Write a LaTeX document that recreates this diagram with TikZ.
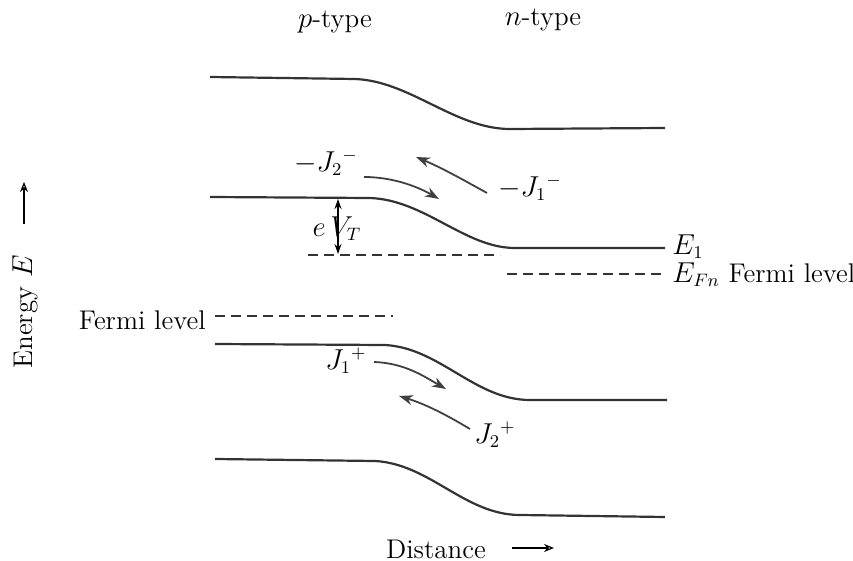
\documentclass[tikz,border=0pt]{standalone}
\usetikzlibrary{arrows.meta}
\begin{document}
\begin{tikzpicture}[x=0.5pt,y=-0.5pt,
  band/.style={line width=1.1pt, draw=black!80},
  level/.style={line width=0.8pt, draw=black!80, dash pattern=on 5pt off 3pt},
  flow/.style={line width=0.9pt, draw=black!75, -{Stealth[length=7pt,width=5pt]}},
  lbl/.style={font=\fontsize{13.5}{15}\selectfont, inner sep=1pt},
  axis/.style={line width=0.6pt, -{Stealth[length=5pt,width=4pt,open]}}]
\useasboundingbox (0,0) rectangle (853,561);
% bands
\draw[band] (210,77) -- (355,79) .. controls (410,81) and (455,129) .. (510,129) -- (665,128);
\draw[band] (210,197) -- (370,198) .. controls (425,200) and (465,248) .. (515,248) -- (665,248);
\draw[band] (215,344) -- (385,345) .. controls (440,348) and (475,400) .. (530,400) -- (667,400);
\draw[band] (215,459) -- (375,461) .. controls (430,464) and (465,515) .. (520,515) -- (665,517);
% levels
\draw[level] (308,255) -- (500,255);
\draw[level] (507,274) -- (665,274);
\draw[level] (215,316) -- (393,316);
% labels
\node[lbl] (ptype) at (335,22) {$p$-type};
\node[lbl] (ntype) at (543,20) {$n$-type};
\node[lbl, anchor=west] (E1) at (670,247) {$E_1$};
\node[lbl, anchor=west] (EFn) at (670,275) {$E_{Fn}$ Fermi level};
\node[lbl, anchor=east] (fermiL) at (208,320) {Fermi level};
\node[lbl] (eVT) at (337,229) {$e\,V_T$};
\draw[line width=0.6pt, {Stealth[length=5pt,width=3.5pt]}-{Stealth[length=5pt,width=3.5pt]}] (338,199) -- (338,254);
% currents
\node[lbl] (Jm2) at (326,163) {$-J_2{}^{-}$};
\node[lbl] (Jm1) at (530,188) {$-J_1{}^{-}$};
\node[lbl] (Jp1) at (346,361) {$J_1{}^{+}$};
\node[lbl] (Jp2) at (495,435) {$J_2{}^{+}$};
\coordinate (a1s) at (364,177);
\coordinate (a1e) at (439,199);
\coordinate (a2s) at (487,193);
\coordinate (a2e) at (416,157);
\coordinate (a3s) at (374,362);
\coordinate (a3e) at (446,389);
\coordinate (a4s) at (470,429);
\coordinate (a4e) at (399,396);
\draw[flow] (a1s) .. controls (395,177) and (420,188) .. (a1e);
\draw[flow] (a2s) .. controls (460,178) and (440,167) .. (a2e);
\draw[flow] (a3s) .. controls (405,363) and (425,377) .. (a3e);
\draw[flow] (a4s) .. controls (445,414) and (425,404) .. (a4e);
% axes
\node[lbl, rotate=90] (energy) at (25,312) {Energy $E$};
\coordinate (ea) at (24,224);
\coordinate (eb) at (24,182);
\draw[axis] (ea) -- (eb);
\node[lbl] (dist) at (436,549) {Distance};
\coordinate (da) at (512,548);
\coordinate (db) at (554,548);
\draw[axis] (da) -- (db);
\end{tikzpicture}
\end{document}
